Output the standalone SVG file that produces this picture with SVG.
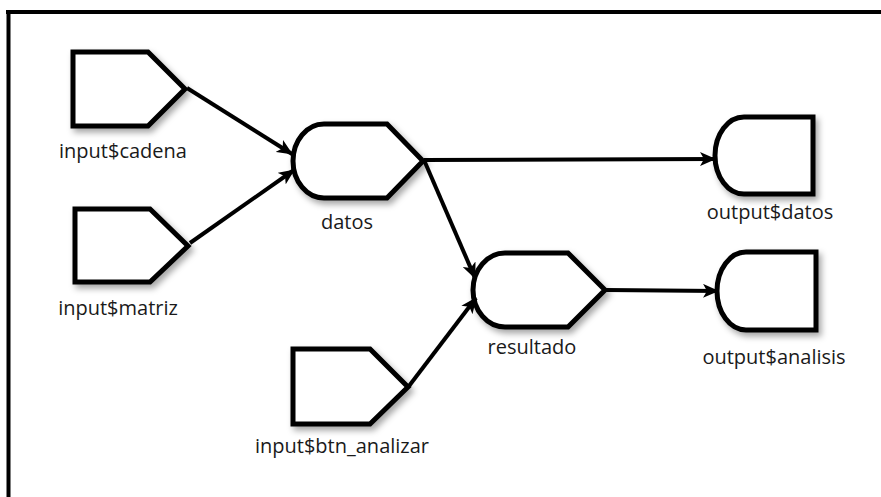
<svg xmlns="http://www.w3.org/2000/svg" width="881" height="497" viewBox="0 0 881 497">
<style>
.shape{fill:#fff;stroke:#000;stroke-width:5;stroke-linejoin:miter}
.lbl{font-family:"Open Sans","Noto Sans","Liberation Sans",sans-serif;font-size:20px;fill:#1a1a1a;text-anchor:middle}
.edge{stroke:#000;stroke-width:4;fill:none;marker-end:url(#arr)}
</style>
<defs>
<marker id="arr" markerUnits="userSpaceOnUse" markerWidth="16" markerHeight="14" refX="15" refY="7" orient="auto">
<path d="M0,0 L16,7 L0,14 L4,7 Z" fill="#000"/>
</marker>
<filter id="sh" x="-20%" y="-20%" width="150%" height="150%">
<feDropShadow dx="3" dy="4" stdDeviation="3" flood-color="#000" flood-opacity="0.35"/>
</filter>
</defs>
<rect width="881" height="497" fill="#fff"/>
<g id="frame">
<line x1="6" y1="12" x2="881" y2="12" stroke="#000" stroke-width="4"/>
<line x1="8.5" y1="10" x2="8.5" y2="497" stroke="#000" stroke-width="4"/>
</g>
<g id="input_cadena">
<path class="shape" filter="url(#sh)" d="M73,52 H148 L185,89 L148,126 H73 Z"/>
<text class="lbl" x="123" y="158">input$cadena</text>
</g>
<g id="input_matriz">
<path class="shape" filter="url(#sh)" d="M75,209 H150 L188,246 L150,282 H75 Z"/>
<text class="lbl" x="118" y="315">input$matriz</text>
</g>
<g id="input_btn_analizar">
<path class="shape" filter="url(#sh)" d="M293,349 H370 L408,387 L370,424 H293 Z"/>
<text class="lbl" x="342" y="453">input$btn_analizar</text>
</g>
<g id="datos">
<path class="shape" filter="url(#sh)" d="M324,124 H387 L423,161 L387,198 H324 A31,37 0 0 1 324,124 Z"/>
<text class="lbl" x="347" y="229">datos</text>
</g>
<g id="resultado">
<path class="shape" filter="url(#sh)" d="M505,253 H568 L605,290 L568,327 H505 A32,37 0 0 1 505,253 Z"/>
<text class="lbl" x="532" y="354">resultado</text>
</g>
<g id="output_datos">
<path class="shape" filter="url(#sh)" d="M744,117 H813 V194 H744 A29,38.5 0 0 1 744,117 Z"/>
<text class="lbl" x="770" y="219">output$datos</text>
</g>
<g id="output_analisis">
<path class="shape" filter="url(#sh)" d="M746,252 H816 V330 H746 A29,39 0 0 1 746,252 Z"/>
<text class="lbl" x="774" y="364">output$analisis</text>
</g>
<g id="connectors">
<line class="edge" x1="187" y1="88" x2="292" y2="154"/>
<line class="edge" x1="190" y1="243" x2="294" y2="170"/>
<line class="edge" x1="424" y1="160" x2="715" y2="159"/>
<line class="edge" x1="424" y1="160" x2="475" y2="278"/>
<line class="edge" x1="409" y1="386" x2="476" y2="298"/>
<line class="edge" x1="606" y1="290" x2="718" y2="291"/>
</g>
</svg>
